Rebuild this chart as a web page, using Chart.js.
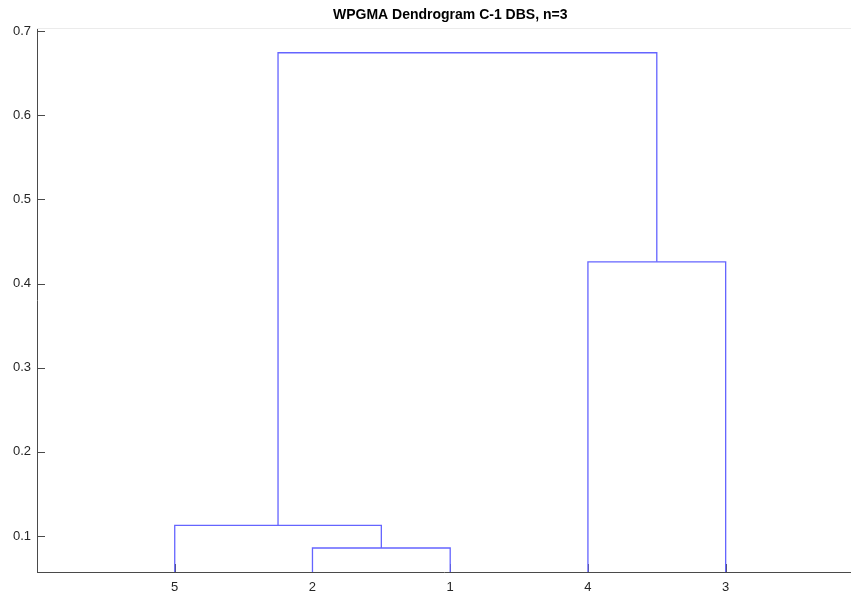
<!DOCTYPE html>
<html>
<head>
<meta charset="utf-8">
<title>WPGMA Dendrogram C-1 DBS, n=3</title>
<script src="https://cdn.jsdelivr.net/npm/chart.js@4/dist/chart.umd.min.js"></script>
<style>
  html, body { margin: 0; padding: 0; background: #fff; overflow: hidden; }
  #wrap { width: 851px; height: 592px; }
</style>
</head>
<body>
<div id="wrap"><canvas id="c" width="851" height="592"></canvas></div>
<script>
// Leaf labels in display order (left to right)
const leafOrder = [5, 2, 1, 4, 3];
// Linkage table (MATLAB style): child A, child B, merge height.
// Clusters created by row k get id 5 + k.
const linkA = [1, 5, 3, 7];
const linkB = [2, 6, 4, 8];
const linkHeight = [0.0857, 0.1127, 0.4258, 0.6742];
// Y tick values
const yTicks = [0.1, 0.2, 0.3, 0.4, 0.5, 0.6, 0.7];
const titleText = 'WPGMA Dendrogram C-1 DBS, n=3';

const nLeaves = leafOrder.length;
const nodeX = {};
const nodeH = {};
leafOrder.forEach((leaf, i) => { nodeX[leaf] = i + 1; nodeH[leaf] = 0; });

const linkColor = '#6464ff';
const datasets = [];
for (let k = 0; k < linkHeight.length; k++) {
  const a = linkA[k], b = linkB[k], h = linkHeight[k];
  const id = nLeaves + 1 + k;
  nodeX[id] = (nodeX[a] + nodeX[b]) / 2;
  nodeH[id] = h;
  datasets.push({
    data: [
      { x: nodeX[a], y: nodeH[a] },
      { x: nodeX[a], y: h },
      { x: nodeX[b], y: h },
      { x: nodeX[b], y: nodeH[b] }
    ],
    showLine: true,
    borderColor: linkColor,
    borderWidth: 1.3,
    pointRadius: 0,
    pointHoverRadius: 0,
    fill: false,
    tension: 0
  });
}

const axisColor = '#4a4a4a';
const textColor = '#262626';
const fontFamily = '"Liberation Sans", Arial, Helvetica, sans-serif';

// Inward tick marks, light top edge and the centred title
const axesDecor = {
  id: 'axesDecor',
  beforeDatasetsDraw(chart) {
    const { ctx, chartArea } = chart;
    const xs = chart.scales.x, ys = chart.scales.y;
    ctx.save();
    ctx.strokeStyle = '#ebebeb';
    ctx.lineWidth = 1;
    ctx.beginPath();
    ctx.moveTo(chartArea.left, Math.round(chartArea.top) + 0.5);
    ctx.lineTo(chartArea.right, Math.round(chartArea.top) + 0.5);
    ctx.stroke();
    ctx.strokeStyle = axisColor;
    ctx.beginPath();
    yTicks.forEach(v => {
      const y = Math.round(ys.getPixelForValue(v)) + 0.5;
      ctx.moveTo(chartArea.left, y);
      ctx.lineTo(chartArea.left + 8, y);
    });
    leafOrder.forEach((_, i) => {
      const x = Math.round(xs.getPixelForValue(i + 1)) + 0.5;
      ctx.moveTo(x, chartArea.bottom);
      ctx.lineTo(x, chartArea.bottom - 8);
    });
    ctx.stroke();
    ctx.restore();
  },
  afterDraw(chart) {
    const { ctx } = chart;
    const xs = chart.scales.x;
    const cx = (xs.getPixelForValue(0) + xs.getPixelForValue(nLeaves + 1)) / 2;
    ctx.save();
    ctx.fillStyle = '#000';
    ctx.font = 'bold 14px ' + fontFamily;
    ctx.textAlign = 'center';
    ctx.textBaseline = 'middle';
    ctx.fillText(titleText, cx, 15);
    ctx.restore();
  }
};

new Chart(document.getElementById('c'), {
  type: 'scatter',
  data: { datasets },
  options: {
    responsive: false,
    animation: false,
    devicePixelRatio: 1,
    layout: { padding: { top: 28, right: 0, bottom: 0, left: 0 } },
    plugins: {
      legend: { display: false },
      title: { display: false },
      tooltip: { enabled: false }
    },
    scales: {
      x: {
        type: 'linear',
        min: 0,
        max: 5.91,
        afterFit(scale) { scale.height = 20; },
        afterBuildTicks(scale) {
          scale.ticks = leafOrder.map((_, i) => ({ value: i + 1 }));
        },
        ticks: {
          autoSkip: false,
          maxRotation: 0,
          padding: 8,
          color: textColor,
          font: { family: fontFamily, size: 13 },
          callback: (v) => String(leafOrder[Math.round(v) - 1])
        },
        grid: { color: 'rgba(0,0,0,0)', drawTicks: false },
        border: { display: true, color: axisColor, width: 1 }
      },
      y: {
        type: 'linear',
        min: 0.0572,
        max: 0.7036,
        afterFit(scale) { scale.width = 37; },
        afterBuildTicks(scale) {
          scale.ticks = yTicks.map(v => ({ value: v }));
        },
        ticks: {
          padding: 6,
          color: textColor,
          font: { family: fontFamily, size: 13 },
          callback: (v) => v.toFixed(1)
        },
        grid: { color: 'rgba(0,0,0,0)', drawTicks: false },
        border: { display: true, color: axisColor, width: 1 }
      }
    }
  },
  plugins: [axesDecor]
});
</script>
</body>
</html>
